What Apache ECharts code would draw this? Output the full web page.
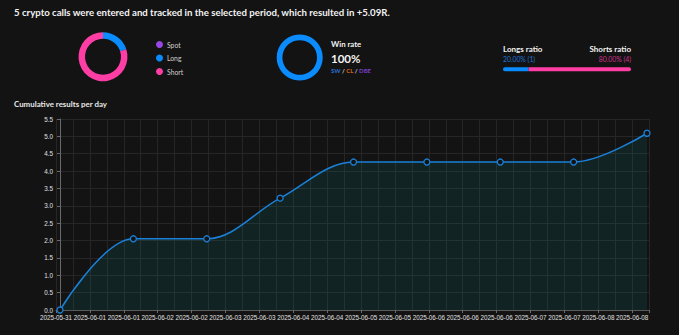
<!DOCTYPE html>
<html>
<head>
<meta charset="utf-8">
<script src="https://cdn.jsdelivr.net/npm/echarts@6/dist/echarts.min.js"></script>
<style>
html,body{margin:0;padding:0;background:#131313;}
#chart{width:679px;height:335px;}
</style>
</head>
<body>
<div id="chart"></div>
<script>
// ---- data ----
const headline = '5 crypto calls were entered and tracked in the selected period, which resulted in +5.09R.';
const tradeTypes = ['Spot', 'Long', 'Short'];
const tradeCounts = [0, 1, 4];
const winRatePct = 100;
const longsCount = 1;
const shortsCount = 4;
const longsPct = 20.00;
const shortsPct = 80.00;
const dates = ['2025-05-31','2025-06-01','2025-06-02','2025-06-03','2025-06-04','2025-06-05','2025-06-06','2025-06-07','2025-06-08'];
const cumulativeR = [0, 2.05, 2.05, 3.22, 4.26, 4.26, 4.26, 4.26, 5.09];
const xTickLabels = ['2025-05-31','2025-06-01','2025-06-01','2025-06-02','2025-06-02','2025-06-03','2025-06-03','2025-06-04','2025-06-04','2025-06-05','2025-06-05','2025-06-06','2025-06-06','2025-06-06','2025-06-07','2025-06-07','2025-06-08','2025-06-08'];

// ---- build ----
const FONT = 'Lato, "Noto Sans", sans-serif';
const BLUE = '#0a8cff', PINK = '#ff3ea5', PURPLE = '#9747e6';
const day0 = Date.parse(dates[0]);
const lineData = dates.map((d, i) => [(Date.parse(d) - day0) / 864e5, cumulativeR[i]]);
const X_MIN = -0.0545, X_MAX = 8.027, X_INT = 0.4619;

const chart = echarts.init(document.getElementById('chart'), null, {renderer: 'svg'});
chart.setOption({
  backgroundColor: '#131313',
  animation: false,
  textStyle: {fontFamily: FONT},
  graphic: [
    {type: 'text', left: 14, top: 7, style: {text: headline, fill: '#f2f2f2', font: 'bold 9.65px ' + FONT}},
    {type: 'text', left: 14, top: 100, style: {text: 'Cumulative results per day', fill: '#e8e8e8', font: 'bold 7.9px ' + FONT}},
    {type: 'text', left: 331, top: 39.5, style: {text: 'Win rate', fill: '#f2f2f2', font: 'bold 7.8px ' + FONT}},
    {type: 'text', left: 331, top: 52, style: {text: winRatePct + '%', fill: '#f2f2f2', font: 'bold 11.5px ' + FONT}},
    {type: 'text', left: 331, top: 67.5, style: {
      text: '{a|SW}{s| / }{b|CL}{s| / }{c|DBE}',
      rich: {
        a: {fill: '#2a6fd0', font: 'bold 6px ' + FONT},
        b: {fill: '#d8651e', font: 'bold 6px ' + FONT},
        c: {fill: '#7b3fcb', font: 'bold 6px ' + FONT},
        s: {fill: '#cfcfcf', font: 'bold 6px ' + FONT}
      }}},
    {type: 'text', left: 503, top: 44.5, style: {text: 'Longs ratio', fill: '#f2f2f2', font: 'bold 8px ' + FONT}},
    {type: 'text', right: 48, top: 44.5, style: {text: 'Shorts ratio', fill: '#f2f2f2', font: 'bold 8px ' + FONT, align: 'right'}},
    {type: 'text', left: 503, top: 55.5, style: {text: longsPct.toFixed(2) + '% (' + longsCount + ')', fill: '#1f73d6', font: '6.8px ' + FONT}},
    {type: 'text', right: 48, top: 55.5, style: {text: shortsPct.toFixed(2) + '% (' + shortsCount + ')', fill: '#d2338b', font: '6.8px ' + FONT, align: 'right'}}
  ],
  legend: {
    orient: 'vertical', left: 151, top: 36,
    data: tradeTypes, icon: 'circle', itemWidth: 7, itemHeight: 7, itemGap: 6.5,
    textStyle: {color: '#cfcfcf', fontSize: 6.8, fontFamily: FONT, padding: [0, 0, 0, -1]},
    selectedMode: false
  },
  grid: [
    {left: 56, right: 30, top: 119, bottom: 25, show: false},
    {left: 503, width: 128, top: 67.3, height: 4}
  ],
  xAxis: [
    {
      type: 'value', gridIndex: 0, min: X_MIN, max: X_MAX, interval: X_INT,
      axisLine: {show: true, lineStyle: {color: '#5a5a5a'}},
      axisTick: {show: true, length: 3, lineStyle: {color: '#6a6a6a'}},
      minorTick: {show: false, splitNumber: 2},
      splitLine: {show: true, lineStyle: {color: '#262626', width: 1}},
      minorSplitLine: {show: true, lineStyle: {color: '#262626', width: 1}},
      axisLabel: {
        color: '#e0e0e0', fontSize: 6.3, fontFamily: 'Liberation Sans, Arial, sans-serif', margin: 4,
        formatter: function (v) {
          const idx = Math.round((v - X_MIN) / X_INT);
          if (Math.abs(v - (X_MIN + idx * X_INT)) < 1e-3 && idx < xTickLabels.length) return xTickLabels[idx];
          return '';
        }
      }
    },
    {type: 'value', gridIndex: 1, min: 0, max: longsCount + shortsCount, show: false}
  ],
  yAxis: [
    {
      type: 'value', gridIndex: 0, min: 0, max: 5.5, interval: 0.5,
      axisLine: {show: true, lineStyle: {color: '#6a6a6a'}},
      axisTick: {show: true, length: 3, lineStyle: {color: '#6a6a6a'}},
      splitLine: {show: true, lineStyle: {color: '#262626', width: 1}},
      axisLabel: {color: '#e0e0e0', fontSize: 6.3, fontFamily: 'Liberation Sans, Arial, sans-serif', margin: 3,
        formatter: v => v.toFixed(1)}
    },
    {type: 'category', gridIndex: 1, data: ['ratio'], show: false}
  ],
  series: [
    {
      type: 'pie', name: 'types', center: [103, 56.7], radius: [18, 24.5],
      startAngle: 90, clockwise: true, label: {show: false}, labelLine: {show: false},
      silent: true, stillShowZeroSum: true,
      data: tradeTypes.map((t, i) => ({name: t, value: tradeCounts[i], itemStyle: {color: [PURPLE, BLUE, PINK][i]}}))
    },
    {
      type: 'pie', name: 'winrate', center: [299.7, 57.5], radius: [17.3, 23], silent: true,
      label: {show: false}, labelLine: {show: false}, legendHoverLink: false,
      data: [{name: 'win', value: winRatePct, itemStyle: {color: BLUE}},
             {name: 'loss', value: 100 - winRatePct, itemStyle: {color: '#2a2a2a'}}]
    },
    {
      type: 'bar', xAxisIndex: 1, yAxisIndex: 1, stack: 'r', barWidth: 4, silent: true,
      data: [longsCount], itemStyle: {color: BLUE, borderRadius: [2, 0, 0, 2]}
    },
    {
      type: 'bar', xAxisIndex: 1, yAxisIndex: 1, stack: 'r', barWidth: 4, silent: true,
      data: [shortsCount], itemStyle: {color: PINK, borderRadius: [0, 2, 2, 0]}
    },
    {
      type: 'line', xAxisIndex: 0, yAxisIndex: 0, data: lineData,
      smooth: 0.35,
      symbol: 'circle', symbolSize: 6, showSymbol: true,
      lineStyle: {color: '#1a80d8', width: 1.5},
      itemStyle: {color: '#131313', borderColor: '#1a80d8', borderWidth: 1.3},
      areaStyle: {color: 'rgba(15,135,145,0.2)'}
    }
  ]
});
</script>
</body>
</html>
